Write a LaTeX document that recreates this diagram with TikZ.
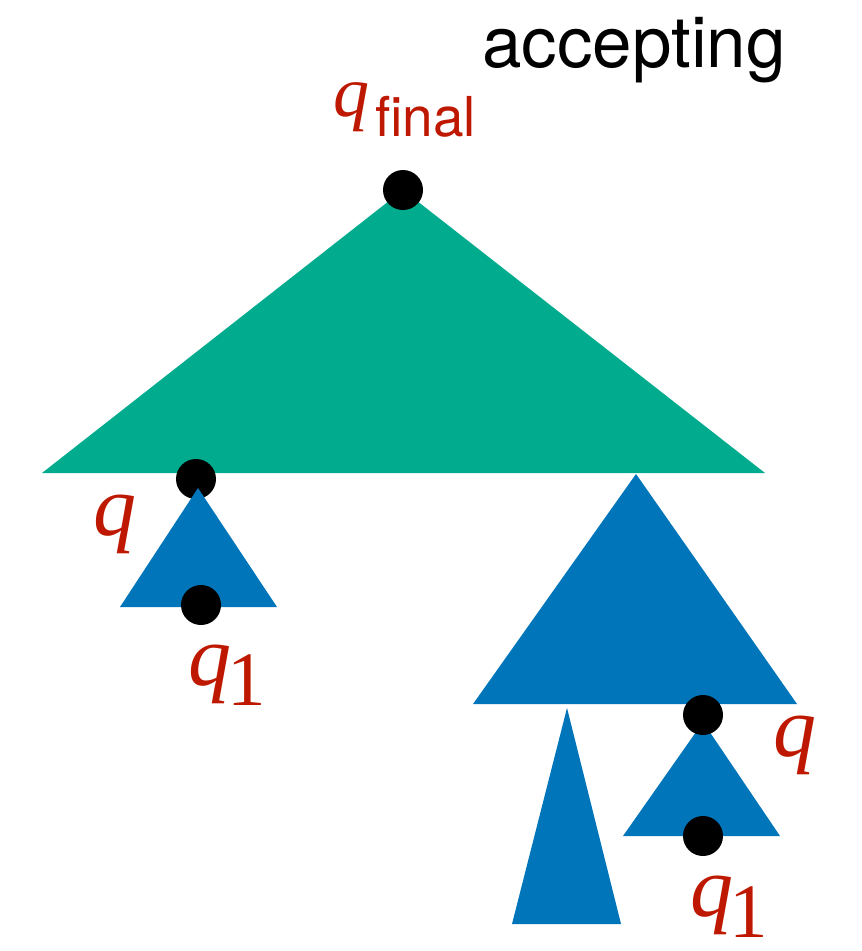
\documentclass[tikz,border=0pt]{standalone}
\usepackage{fontspec}
\newfontfamily\heros{TeX Gyre Heros}
\newfontfamily\tms{Liberation Serif}
\definecolor{treegreen}{RGB}{0,171,142}
\definecolor{treeblue}{RGB}{0,117,186}
\definecolor{labelred}{RGB}{190,25,0}
\tikzset{
  dot/.style={circle,fill=black,inner sep=0pt,minimum size=40pt},
  lbl/.style={anchor=base west,inner sep=0pt,text=labelred},
  qbig/.style={lbl,font=\tms\itshape\fontsize{86}{86}\selectfont},
  onebig/.style={lbl,text depth=0pt,font=\tms\upshape\fontsize{77}{77}\selectfont},
}
\begin{document}
\begin{tikzpicture}[x=1pt,y=-1pt]
\useasboundingbox (0,0) rectangle (862,951);
% green top triangle
\coordinate (gA) at (403,190);
\coordinate (gL) at (42,473);
\coordinate (gR) at (765,473);
\fill[treegreen] (gA) -- (gL) -- (gR) -- cycle;
\node[dot] (qfinal) at (403,190) {};
% left small subtree
\node[dot] (qL) at (196,479) {};
\fill[treeblue] (198,488) -- (120,607) -- (277,607) -- cycle;
\node[dot] (q1L) at (201,605) {};
% right big subtree
\fill[treeblue] (636,474) -- (473,704) -- (797,704) -- cycle;
% thin subtree
\fill[treeblue] (567,708) -- (512,924) -- (621,924) -- cycle;
% right small subtree
\fill[treeblue] (703,722) -- (623,836) -- (780,836) -- cycle;
\node[dot] (qR) at (703,715) {};
\node[dot] (q1R) at (703,836) {};
% labels
\node[anchor=base west,inner sep=0pt,font=\heros\fontsize{71}{71}\selectfont] (acc) at (482,67) {accepting};
\node[lbl,font=\tms\itshape\fontsize{72}{72}\selectfont] (lqf) at (333,116) {q};
\node[lbl,font=\heros\fontsize{55}{55}\selectfont] (lfinal) at (375,136) {final};
\node[qbig] (lqL) at (93,535) {q};
\node[qbig] (lq1L) at (188,685) {q};
\node[onebig] (l1L) at (227,705) {1};
\node[qbig] (lqR) at (773,756) {q};
\node[qbig] (lq1R) at (690,916) {q};
\node[onebig] (l1R) at (729,937) {1};
\end{tikzpicture}
\end{document}
